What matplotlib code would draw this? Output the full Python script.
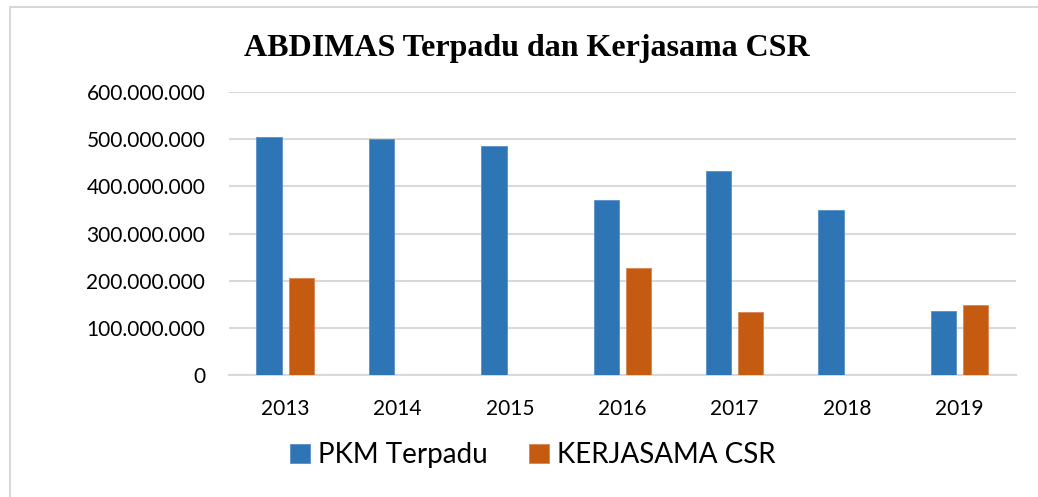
import matplotlib.pyplot as plt
import numpy as np
from matplotlib.patches import Rectangle
from matplotlib.ticker import FuncFormatter, MultipleLocator

# Data
years = ["2013", "2014", "2015", "2016", "2017", "2018", "2019"]
pkm_terpadu = [505e6, 500e6, 485e6, 372e6, 433e6, 350e6, 136e6]
kerjasama_csr = [207e6, 0, 0, 227e6, 135e6, 0, 149e6]

blue = "#2E75B6"
orange = "#C55A11"
grid_gray = "#D9D9D9"

plt.rcParams["font.family"] = ["Lato", "DejaVu Sans"]

fig = plt.figure(figsize=(10.38, 4.97), dpi=100)
ax = fig.add_axes([0.2206, 0.2449, 0.7579, 0.57])

# light frame around the chart (runs off the right and bottom edges)
fig.patches.append(Rectangle((10 / 1038, -0.1), 1.2, 1 - 7 / 497 + 0.1,
                             transform=fig.transFigure, fill=False,
                             edgecolor=grid_gray, linewidth=1.5))

x = np.arange(len(years))
width = 0.226
gap = 0.06
ax.bar(x - (width + gap) / 2, pkm_terpadu, width, color=blue,
       edgecolor="#5B8FC7", linewidth=0.6, label="PKM Terpadu", zorder=3)
ax.bar(x + (width + gap) / 2, kerjasama_csr, width, color=orange,
       edgecolor="#D98552", linewidth=0.6, label="KERJASAMA CSR", zorder=3)

ax.set_xlim(-0.5, len(years) - 0.5)
ax.set_ylim(0, 600e6)
ax.yaxis.set_major_locator(MultipleLocator(100e6))
ax.yaxis.set_major_formatter(
    FuncFormatter(lambda v, p: "0" if v == 0 else f"{int(v):,}".replace(",", "."))
)
ax.set_xticks(x)
ax.set_xticklabels(years)
ax.tick_params(axis="both", length=0, labelsize=15, colors="black")
ax.tick_params(axis="y", pad=17)
ax.tick_params(axis="x", pad=17)

ax.grid(axis="y", color=grid_gray, linewidth=1.5, zorder=0)
for s in ["top", "right", "left"]:
    ax.spines[s].set_visible(False)
ax.spines["bottom"].set_color(grid_gray)
ax.spines["bottom"].set_linewidth(1.5)

fig.text(0.508, 0.903, "ABDIMAS Terpadu dan Kerjasama CSR", ha="center",
         va="center", fontsize=23, fontweight="bold", family="Liberation Serif")

fig.legend(loc="center", bbox_to_anchor=(0.5135, 0.0845), ncol=2, frameon=False,
           fontsize=20, handlelength=0.7, handleheight=0.7, handletextpad=0.3,
           columnspacing=1.5)

fig.savefig("out.png", dpi=100)
